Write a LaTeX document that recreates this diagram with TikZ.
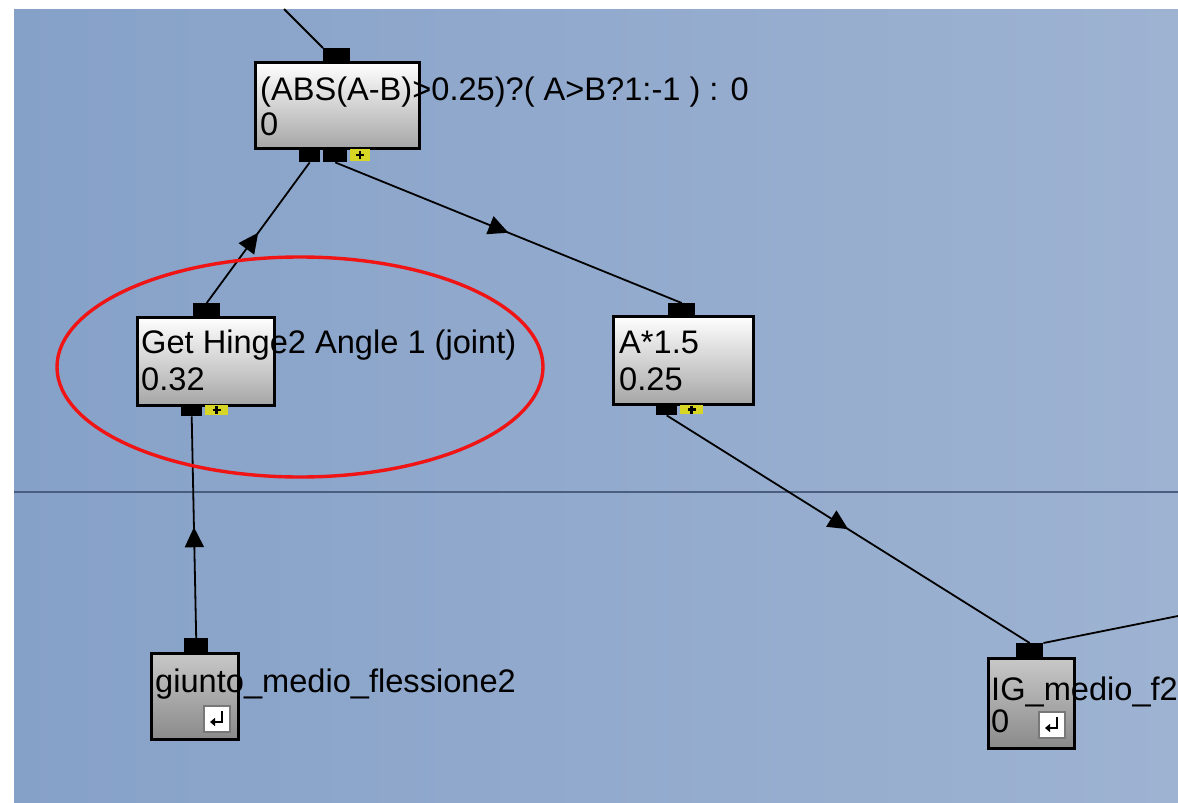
\documentclass[tikz,border=0pt]{standalone}
\usepackage{fontspec}
\setmainfont{Liberation Sans}
\usetikzlibrary{decorations.markings,arrows.meta,calc}

\definecolor{bgleft}{RGB}{134,161,200}
\definecolor{bgright}{RGB}{158,179,210}
\definecolor{divider}{RGB}{74,95,128}
\definecolor{portyellow}{RGB}{216,214,36}
\definecolor{ringred}{RGB}{240,20,20}
\definecolor{boxlow}{RGB}{166,166,166}
\definecolor{greyhigh}{RGB}{200,200,200}
\definecolor{greylow}{RGB}{138,138,138}
\definecolor{iconframe}{RGB}{120,120,120}

\tikzset{
  x=1pt, y=-1pt,
  opbox/.style={draw=black, line width=2.5pt, top color=white, bottom color=boxlow,
    anchor=north west, inner sep=0pt, minimum width=#1},
  varbox/.style={draw=black, line width=2.5pt, top color=greyhigh, bottom color=greylow,
    anchor=north west, inner sep=0pt, minimum width=#1},
  port/.style={fill=black, anchor=north west, inner sep=0pt, minimum width=#1},
  plusport/.style={fill=portyellow, anchor=north west, inner sep=0pt, minimum width=#1,
    path picture={\draw[black, line width=2.5pt]
      ($(path picture bounding box.center)+(-4,0)$) -- ($(path picture bounding box.center)+(4,0)$)
      ($(path picture bounding box.center)+(0,-4)$) -- ($(path picture bounding box.center)+(0,4)$);}},
  label/.style={anchor=base west, inner sep=0pt, font=\fontsize{32.6}{33}\selectfont},
  icon/.style={fill=white, draw=iconframe, line width=2.5pt, minimum size=26pt, inner sep=0pt},
  wire/.style={draw=black, line width=1.8pt},
  flow/.style={wire, postaction={decorate}, decoration={markings,
    mark=at position 0.5 with {\arrow{Triangle[length=20pt,width=19pt]}}}}
}

\begin{document}
\begin{tikzpicture}
\useasboundingbox (0,0) rectangle (1178,803);
% canvas
\fill[white] (0,0) rectangle (1178,803);
\shade[left color=bgleft, right color=bgright] (14,9) rectangle (1178,803);
\draw[divider, line width=2.5pt] (14,492) -- (1178,492);

% expression block
\node[opbox=164pt, minimum height=86pt] (abs) at (254,61) {};
\node[port=27pt, minimum height=13pt] (absin) at (323,48) {};
\node[port=21pt, minimum height=14pt] (absout) at (299,148) {};
\node[port=24pt, minimum height=14pt] (absout2) at (323,148) {};
\node[plusport=20pt, minimum height=12pt] (absplus) at (350,149) {};
\node[label] (abstxt) at (260,100) {(ABS(A-B)>0.25)?( A>B?1:-1 ) : 0};
\node[label] (absval) at (260,135) {0};

% hinge angle reader
\node[opbox=137pt, minimum height=88pt] (hinge) at (136,316) {};
\node[port=27pt, minimum height=13pt] (hingein) at (193,303) {};
\node[port=21pt, minimum height=12pt] (hingeout) at (181,404) {};
\node[plusport=23pt, minimum height=10pt] (hingeplus) at (205,405) {};
\node[label] (hingetxt) at (141,353) {Get Hinge2 Angle 1 (joint)};
\node[label] (hingeval) at (141,390) {0.32};

% gain block
\node[opbox=140pt, minimum height=88pt] (gain) at (612,315) {};
\node[port=27pt, minimum height=12pt] (gainin) at (668,303) {};
\node[port=21pt, minimum height=12pt] (gainout) at (656,403) {};
\node[plusport=23pt, minimum height=9pt] (gainplus) at (680,405) {};
\node[label] (gaintxt) at (619,353) {A*1.5};
\node[label] (gainval) at (619,390) {0.25};

% joint variable
\node[varbox=87pt, minimum height=86pt] (joint) at (150,652) {};
\node[port=24pt, minimum height=14pt] (jointin) at (184,638) {};
\node[label] (jointtxt) at (155,692) {giunto\_medio\_flessione2};
\node[icon] (jointicon) at (217,719) {};
\draw[black, line width=2.6pt, -{Triangle[length=5pt,width=8pt]}]
  ($(jointicon.center)+(5,-8)$) -- ($(jointicon.center)+(5,3)$) -- ($(jointicon.center)+(-7,3)$);

% output variable
\node[varbox=86pt, minimum height=90pt] (out) at (987,657) {};
\node[port=27pt, minimum height=14pt] (outin) at (1016,643) {};
\node[label] (outtxt) at (991,700) {IG\_medio\_f2};
\node[label] (outval) at (991,732) {0};
\node[icon] (outicon) at (1052,725) {};
\draw[black, line width=2.6pt, -{Triangle[length=5pt,width=8pt]}]
  ($(outicon.center)+(5,-8)$) -- ($(outicon.center)+(5,3)$) -- ($(outicon.center)+(-7,3)$);

% connectors
\coordinate (feedin) at (284,9);
\coordinate (feedout) at (1178,616);
\draw[wire] (feedin) -- (absin.north west);
\draw[flow] (hingein.north) -- (absout.south);
\draw[flow] (absout2.south) -- (gainin.north);
\draw[flow] (jointin.north) -- (hingeout.south);
\draw[flow] (gainout.south) -- (outin.north);
\draw[wire] (outin.north east) -- (feedout);

% highlight ring
\draw[ringred, line width=3.4pt] (300,367) ellipse [x radius=243, y radius=110];
\end{tikzpicture}
\end{document}
